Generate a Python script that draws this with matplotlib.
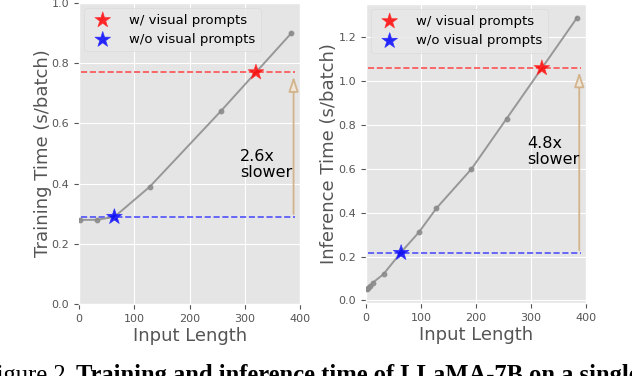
import matplotlib
matplotlib.use("Agg")
import matplotlib.pyplot as plt

plt.style.use("ggplot")

# Training panel
train_len = [1, 32, 64, 128, 256, 384]
train_time = [0.28, 0.28, 0.29, 0.39, 0.64, 0.90]
train_wo = (64, 0.29)
train_w = (320, 0.77)
train_text = "2.6x\nslower"

# Inference panel
infer_len = [2, 4, 8, 12, 32, 64, 96, 128, 192, 256, 384]
infer_time = [0.05, 0.055, 0.065, 0.08, 0.12, 0.22, 0.31, 0.42, 0.60, 0.83, 1.29]
infer_wo = (64, 0.217)
infer_w = (320, 1.06)
infer_text = "4.8x\nslower"

xticks = [0, 100, 200, 300, 400]
legend_labels = ["w/ visual prompts", "w/o visual prompts"]
ylabels = ["Training Time (s/batch)", "Inference Time (s/batch)"]
xlabel = "Input Length"
caption_a = "Figure 2."
caption_b = "Training and inference time of LLaMA-7B on a single"

fig = plt.figure(figsize=(6.32, 3.76), dpi=100)
fig.patch.set_facecolor("white")
ax1 = fig.add_axes([0.125, 0.191, 0.350, 0.801])
ax2 = fig.add_axes([0.579, 0.194, 0.348, 0.795])

panels = [
    (ax1, train_len, train_time, train_wo, train_w, train_text, ylabels[0], (0, 1.0), (291, 0.465)),
    (ax2, infer_len, infer_time, infer_wo, infer_w, infer_text, ylabels[1], None, (293, 0.68)),
]

for ax, xs, ys, wo, w, txt, ylab, ylim, tpos in panels:
    ax.plot(xs, ys, color="#8a8a8a", alpha=0.85, lw=1.4, marker="o", ms=3.2, zorder=3)
    ax.hlines(w[1], 3, 391, colors="#ff4040", linestyles="--", lw=1.2, alpha=0.9, zorder=2)
    ax.hlines(wo[1], 3, 391, colors="#4040ff", linestyles="--", lw=1.2, alpha=0.9, zorder=2)
    ax.scatter([w[0]], [w[1]], marker="*", s=140, color="red", edgecolors="#ff3030",
               hatch="////", alpha=0.85, zorder=4, label=legend_labels[0])
    ax.scatter([wo[0]], [wo[1]], marker="*", s=140, color="blue", edgecolors="#3030ff",
               hatch="////", alpha=0.85, zorder=4, label=legend_labels[1])
    ax.annotate("", xy=(388, w[1] - 0.005), xytext=(388, wo[1]),
                arrowprops=dict(arrowstyle="-|>,head_length=0.9,head_width=0.3",
                                color="tan", fc="#efe6d8", lw=1.3), zorder=3)
    ax.text(tpos[0], tpos[1], txt, fontsize=11.5, color="black", ha="left", va="center",
            linespacing=1.1)
    ax.set_xlim(0, 400)
    ax.set_xticks(xticks)
    if ylim is not None:
        ax.set_ylim(*ylim)
    ax.tick_params(labelsize=8, colors="#555555")
    ax.set_xlabel(xlabel, fontsize=13, color="#555555", labelpad=2)
    ax.set_ylabel(ylab, fontsize=13, color="#555555", labelpad=0)
    leg = ax.legend(loc="upper left", fontsize=9.5, frameon=True, handletextpad=1.0,
                    borderaxespad=0.4, scatterpoints=1)
    leg.get_frame().set_facecolor("#e8e8e8")
    leg.get_frame().set_edgecolor("#d8d8d8")

fig.text(0.114, -0.016, caption_a, fontsize=17.7, family="Liberation Serif", color="black",
         va="baseline", ha="right")
fig.text(0.121, -0.016, caption_b, fontsize=17.7,
         family="Liberation Serif", weight="bold", color="black", va="baseline", ha="left")

fig.savefig("out.png", dpi=100)
